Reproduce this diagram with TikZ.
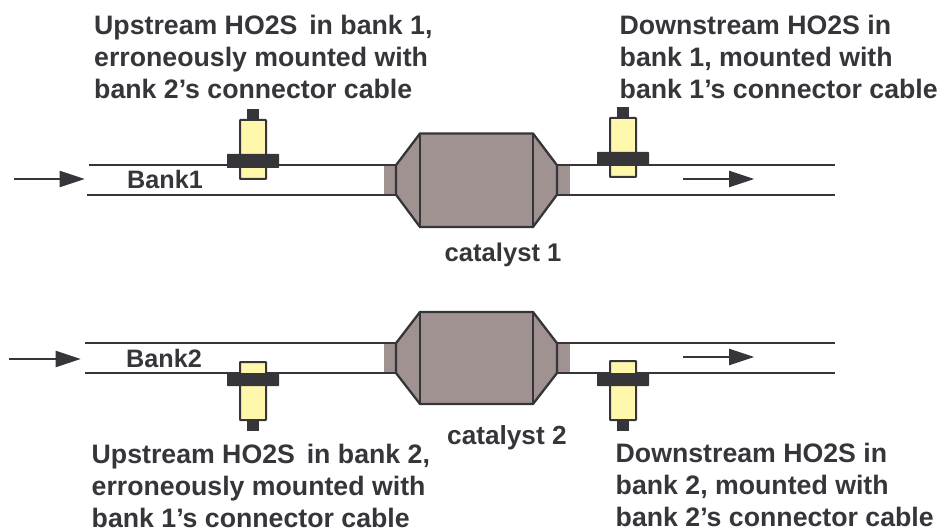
\documentclass[tikz,border=0pt]{standalone}
\usepackage{fontspec}
\setmainfont{Liberation Sans}
\definecolor{ink}{HTML}{36353A}
\definecolor{body}{HTML}{A09290}
\definecolor{sens}{HTML}{FFF8AC}
\tikzset{
  x=1pt,y=-1pt,
  lab/.style={anchor=base west,inner sep=0pt,text=ink,font=\fontsize{26.7}{32}\selectfont\bfseries,align=left},
  short/.style={anchor=base west,inner sep=0pt,text=ink,font=\fontsize{25.2}{30}\selectfont\bfseries},
  cat/.style={anchor=base west,inner sep=0pt,text=ink,font=\fontsize{#1}{30}\selectfont\bfseries},
  pipe/.style={draw=ink,line width=2.3pt},
  flow/.style={draw=ink,line width=1.7pt},
  head/.style={fill=ink,draw=none},
}
\newcommand{\flanges}[2]{
  \fill[body] (384,#1) rectangle (396,#2);
  \fill[body] (557,#1) rectangle (570,#2);
}
\newcommand{\catal}[4]{
  \filldraw[fill=body,draw=ink,line width=2.3pt,line join=round]
    (396,#1) -- (420,#3) -- (533,#3) -- (557,#1) -- (557,#2) -- (533,#4) -- (420,#4) -- (396,#2) -- cycle;
  \draw[draw=ink,line width=1.5pt] (420,#3) -- (420,#4) (533,#3) -- (533,#4);
}
\newcommand{\sensr}[7]{
  \fill[ink] (#1+7,#6) rectangle (#1+19,#7);
  \filldraw[fill=sens,draw=ink,line width=2pt,rounded corners=0.6pt] (#1,#2) rectangle (#1+26,#3);
  \fill[ink,rounded corners=0.6pt] (#1-13,#4) rectangle (#1+39,#5);
}
\newcommand{\headto}[2]{\fill[head] (#1-25,#2-8.4) -- (#1,#2) -- (#1-25,#2+8.4) -- cycle;}
\begin{document}
\begin{tikzpicture}
\useasboundingbox (0,0) rectangle (938,532);
\coordinate (a1) at (88.5,165.2); \coordinate (a2) at (396,165.2);
\coordinate (a3) at (87,194.7);  \coordinate (a4) at (396,194.7);
\coordinate (b1) at (557,165.2); \coordinate (b2) at (835,165.2);
\coordinate (b3) at (557,194.7);  \coordinate (b4) at (835,194.7);
\coordinate (c1) at (85,343.2); \coordinate (c2) at (396,343.2);
\coordinate (c3) at (85,373); \coordinate (c4) at (396,373);
\coordinate (d1) at (557,343.2); \coordinate (d2) at (835,343.2);
\coordinate (d3) at (557,373); \coordinate (d4) at (835,373);
\flanges{165.2}{194.7}
\flanges{343.2}{373}
\draw[pipe] (a1)--(a2) (a3)--(a4) (b1)--(b2) (b3)--(b4);
\draw[pipe] (c1)--(c2) (c3)--(c4) (d1)--(d2) (d3)--(d4);
\catal{165.2}{194.7}{133.5}{227}
\catal{343.2}{373}{312}{404}
\sensr{240}{120}{179}{154}{168}{109}{120}
\sensr{610}{118}{177}{152}{166}{107}{118}
\sensr{240}{362}{420}{373}{386}{420}{431}
\sensr{610}{361}{420}{373}{386}{420}{431}
\coordinate (e1) at (13.5,179); \coordinate (e2) at (60,179);
\coordinate (f1) at (683,179); \coordinate (f2) at (730,179);
\coordinate (g1) at (9,359); \coordinate (g2) at (56,359);
\coordinate (h1) at (683,357); \coordinate (h2) at (730,357);
\draw[flow] (e1)--(e2) (f1)--(f2) (g1)--(g2) (h1)--(h2);
\headto{84.5}{179}\headto{754}{179}\headto{80.5}{359}\headto{754}{357}
\node[lab] (t1) at (94,98.5) {Upstream HO2S\, in bank 1,\\erroneously mounted with\\bank 2’s connector cable};
\node[lab] (t2) at (619.5,98.5) {Downstream HO2S in\\bank 1, mounted with\\bank 1’s connector cable};
\node[lab] (t3) at (91.5,527.5) {Upstream HO2S\, in bank 2,\\erroneously mounted with\\bank 1’s connector cable};
\node[lab] (t4) at (615.5,526.5) {Downstream HO2S in\\bank 2, mounted with\\bank 2’s connector cable};
\node[short] (n1) at (127,189) {Bank1};
\node[short] (n2) at (126,367) {Bank2};
\node[cat=25.6] (n3) at (444.5,261.5) {catalyst 1};
\node[cat=26.2] (n4) at (447,444) {catalyst 2};
\end{tikzpicture}
\end{document}
